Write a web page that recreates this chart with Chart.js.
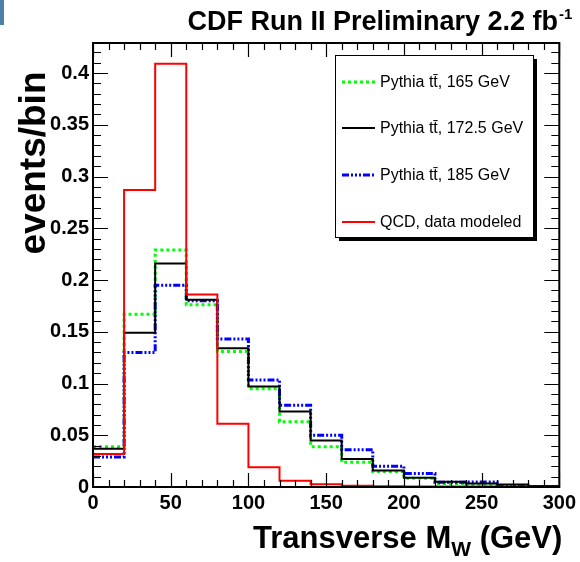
<!DOCTYPE html>
<html>
<head>
<meta charset="utf-8">
<title>Transverse MW</title>
<script src="https://cdn.jsdelivr.net/npm/chart.js@4.4.1/dist/chart.umd.min.js"></script>
<style>
  html, body { margin: 0; padding: 0; background: #fff; }
  #wrap { position: relative; width: 580px; height: 562px; }
  #corner { position: absolute; left: 0; top: 0; width: 4px; height: 25px; background: #4b80ab; }
</style>
</head>
<body>
<div id="wrap">
  <canvas id="mwChart" width="580" height="562"></canvas>
  <div id="corner"></div>
</div>
<script>
// --- histogram contents, 20 GeV bins ---
const binEdges = [0, 20, 40, 60, 80, 100, 120, 140, 160, 180, 200, 220, 240, 260, 280, 300];
const tt165  = [0.039, 0.167, 0.229, 0.176, 0.131, 0.095, 0.063, 0.039, 0.024, 0.015, 0.0085, 0.0035, 0.002, 0.0003, 0.0003];
const tt1725 = [0.037, 0.149, 0.216, 0.181, 0.134, 0.097, 0.073, 0.045, 0.027, 0.016, 0.009, 0.005, 0.0035, 0.0025, 0.001];
const tt185  = [0.029, 0.130, 0.195, 0.180, 0.143, 0.1035, 0.079, 0.050, 0.036, 0.020, 0.013, 0.0045, 0.0048, 0.001, 0.0005];
const qcd    = [0.032, 0.287, 0.409, 0.186, 0.061, 0.019, 0.006, 0.0026, 0.0012, 0.0008, 0.0006, 0.0005, 0.0004, 0.0003, 0.0003];

const seriesNames = ['Pythia t\u0074\u0304, 165 GeV', 'Pythia t\u0074\u0304, 172.5 GeV', 'Pythia t\u0074\u0304, 185 GeV', 'QCD, data modeled'];

// --- axes ---
const xTickValues = [0, 50, 100, 150, 200, 250, 300];
const xTickLabels = ['0', '50', '100', '150', '200', '250', '300'];
const yTickValues = [0, 0.05, 0.1, 0.15, 0.2, 0.25, 0.3, 0.35, 0.4];
const yTickLabels = ['0', '0.05', '0.1', '0.15', '0.2', '0.25', '0.3', '0.35', '0.4'];
const xMinorStep = 10;
const yMinorStep = 0.01;

const FONT = '"Liberation Sans", Arial, Helvetica, sans-serif';

// step outline: one point per bin edge, last bin repeated to close at 300
function histPoints(vals) {
    return binEdges.map((e, i) => ({ x: e, y: vals[Math.min(i, vals.length - 1)] }));
}

// ROOT-style frame with ticks pointing inward on all four sides
const frameTicks = {
    id: 'frameTicks',
    afterDatasetsDraw(chart) {
        const { ctx, chartArea: a, scales: { x, y } } = chart;
        ctx.save();
        ctx.strokeStyle = '#000';
        ctx.lineWidth = 1.2;
        ctx.beginPath();
        for (let v = x.min; v <= x.max + 1e-9; v += xMinorStep) {
            const px = Math.round(x.getPixelForValue(v)) + 0.5;
            const len = xTickValues.includes(Math.round(v)) ? 14 : 7;
            ctx.moveTo(px, a.bottom); ctx.lineTo(px, a.bottom - len);
            ctx.moveTo(px, a.top); ctx.lineTo(px, a.top + len);
        }
        for (let k = 0; k * yMinorStep <= y.max + 1e-9; k++) {
            const v = k * yMinorStep;
            const py = Math.round(y.getPixelForValue(v)) + 0.5;
            const len = (k % 5 === 0) ? 15 : 8;
            ctx.moveTo(a.left, py); ctx.lineTo(a.left + len, py);
            ctx.moveTo(a.right, py); ctx.lineTo(a.right - len, py);
        }
        ctx.stroke();
        ctx.lineWidth = 2;
        ctx.strokeRect(a.left, a.top, a.right - a.left, a.bottom - a.top);
        ctx.restore();
    }
};

// legend box with drop shadow, plus the titles
const annotations = {
    id: 'annotations',
    afterDraw(chart) {
        const ctx = chart.ctx;
        const sets = chart.data.datasets;
        ctx.save();

        // legend
        const bx = 335, by = 55, bw = 198, bh = 182;
        ctx.fillStyle = '#000';
        ctx.fillRect(bx + 4, by + 4, bw, bh);
        ctx.fillStyle = '#fff';
        ctx.fillRect(bx, by, bw, bh);
        ctx.strokeStyle = '#000';
        ctx.lineWidth = 1;
        ctx.strokeRect(bx + 0.5, by + 0.5, bw, bh);
        const rowY = [82, 128, 175, 222];
        sets.forEach((ds, i) => {
            ctx.save();
            ctx.strokeStyle = ds.borderColor;
            ctx.lineWidth = ds.borderWidth;
            ctx.setLineDash(ds.borderDash || []);
            ctx.beginPath();
            ctx.moveTo(342, rowY[i]); ctx.lineTo(375, rowY[i]);
            ctx.stroke();
            ctx.restore();
            ctx.fillStyle = '#000';
            ctx.font = '16px ' + FONT;
            ctx.textAlign = 'left';
            ctx.textBaseline = 'middle';
            ctx.fillText(ds.label, 380, rowY[i] + 1);
        });

        // main title with superscript
        ctx.fillStyle = '#000';
        ctx.textBaseline = 'alphabetic';
        ctx.font = 'bold 27px ' + FONT;
        ctx.textAlign = 'right';
        ctx.fillText('CDF Run II Preliminary 2.2 fb', 558, 30);
        ctx.font = 'bold 15px ' + FONT;
        ctx.textAlign = 'left';
        ctx.fillText('-1', 559, 19);

        // x axis title with subscript, right aligned to the frame
        const big = 'bold 31px ' + FONT, small = 'bold 21px ' + FONT;
        const p1 = 'Transverse M', p2 = 'W', p3 = ' (GeV)';
        ctx.font = big; const w1 = ctx.measureText(p1).width, w3 = ctx.measureText(p3).width;
        ctx.font = small; const w2 = ctx.measureText(p2).width;
        let tx = chart.chartArea.right + 3 - (w1 + w2 + w3);
        ctx.font = big; ctx.fillText(p1, tx, 548); tx += w1;
        ctx.font = small; ctx.fillText(p2, tx, 556); tx += w2;
        ctx.font = big; ctx.fillText(p3, tx, 548);

        // y axis title
        ctx.translate(45, 163);
        ctx.rotate(-Math.PI / 2);
        ctx.font = 'bold 37px ' + FONT;
        ctx.textAlign = 'center';
        ctx.fillText('events/bin', 0, 0);
        ctx.restore();
    }
};

const tickFont = { family: FONT, size: 20, weight: 'bold' };

new Chart(document.getElementById('mwChart'), {
    type: 'line',
    data: {
        datasets: [
            { label: seriesNames[0], data: histPoints(tt165), borderColor: '#00ff00', borderWidth: 3, borderDash: [3, 3], order: 3 },
            { label: seriesNames[1], data: histPoints(tt1725), borderColor: '#000000', borderWidth: 2, order: 1 },
            { label: seriesNames[2], data: histPoints(tt185), borderColor: '#0000ff', borderWidth: 3, borderDash: [7, 2, 2, 2, 2, 2, 2, 2], order: 2 },
            { label: seriesNames[3], data: histPoints(qcd), borderColor: '#ff0000', borderWidth: 2, order: 0 }
        ].map(d => Object.assign({ stepped: 'before', pointRadius: 0, fill: false, tension: 0 }, d))
    },
    options: {
        responsive: false,
        animation: false,
        events: [],
        layout: { padding: { top: 43, right: 17, left: 0, bottom: 0 } },
        plugins: { legend: { display: false }, tooltip: { enabled: false } },
        scales: {
            x: {
                type: 'linear', min: 0, max: 300,
                grid: { display: false, drawTicks: false },
                border: { display: false },
                afterBuildTicks: s => { s.ticks = xTickValues.map(v => ({ value: v })); },
                afterFit: s => { s.height = 75; },
                ticks: { autoSkip: false, maxRotation: 0, padding: 4, color: '#000', font: tickFont,
                         callback: (v, i) => xTickLabels[i] }
            },
            y: {
                type: 'linear', min: 0, max: 0.429,
                grid: { display: false, drawTicks: false },
                border: { display: false },
                afterBuildTicks: s => { s.ticks = yTickValues.map(v => ({ value: v })); },
                afterFit: s => { s.width = 93; },
                ticks: { autoSkip: false, padding: 4, color: '#000', font: tickFont,
                         callback: (v, i) => yTickLabels[i] }
            }
        }
    },
    plugins: [frameTicks, annotations]
});
</script>
</body>
</html>
